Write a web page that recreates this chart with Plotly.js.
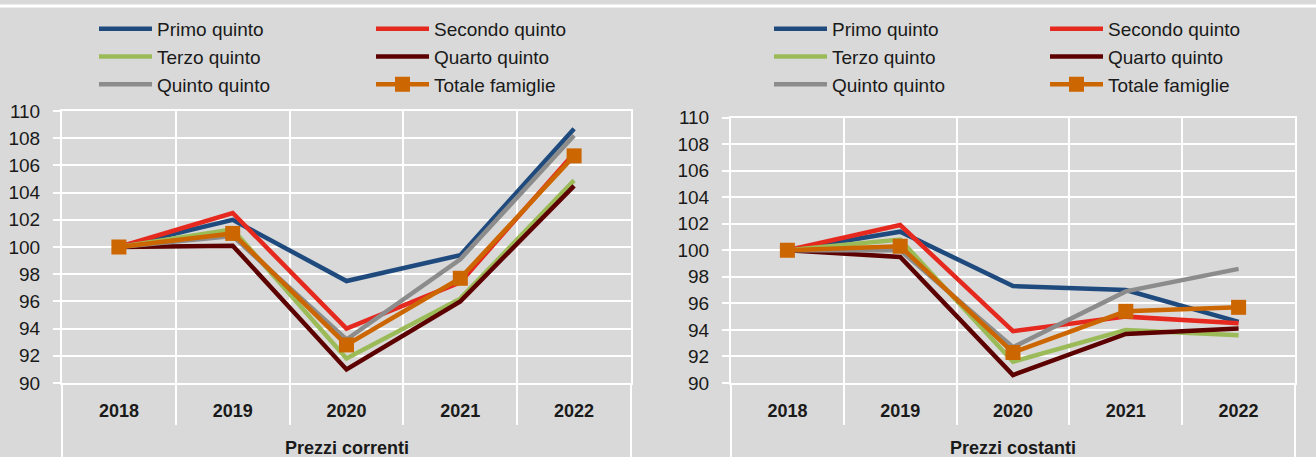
<!DOCTYPE html>
<html>
<head>
<meta charset="utf-8">
<script src="https://cdn.plot.ly/plotly-3.0.1.min.js"></script>
<style>html,body{margin:0;padding:0;background:#d9d9d9;}#chart{width:1316px;height:457px;}</style>
</head>
<body>
<div id="chart"></div>
<script>
// ---- data ----
const years = ["2018", "2019", "2020", "2021", "2022"];
const seriesNames = ["Primo quinto", "Secondo quinto", "Terzo quinto", "Quarto quinto", "Quinto quinto", "Totale famiglie"];
const panelLabels = ["Prezzi correnti", "Prezzi costanti"];

// Prezzi correnti (2018 = 100)
const primoCorrenti   = [100, 102.0, 97.5, 99.4, 108.7];
const secondoCorrenti = [100, 102.5, 94.0, 97.4, 106.9];
const terzoCorrenti   = [100, 101.3, 91.8, 96.2, 104.9];
const quartoCorrenti  = [100, 100.1, 91.0, 96.0, 104.5];
const quintoCorrenti  = [100, 100.8, 93.2, 99.1, 108.2];
const totaleCorrenti  = [100, 101.0, 92.8, 97.7, 106.7];

// Prezzi costanti (2018 = 100)
const primoCostanti   = [100, 101.4, 97.3, 97.0, 94.6];
const secondoCostanti = [100, 101.9, 93.9, 95.0, 94.5];
const terzoCostanti   = [100, 100.8, 91.6, 94.0, 93.6];
const quartoCostanti  = [100, 99.5, 90.6, 93.7, 94.1];
const quintoCostanti  = [100, 100.0, 92.7, 96.9, 98.6];
const totaleCostanti  = [100, 100.3, 92.3, 95.4, 95.7];

const yTickVals = [90, 92, 94, 96, 98, 100, 102, 104, 106, 108, 110];

// ---- styling ----
const colors = ["#1f4a7e", "#e5291f", "#9bbb59", "#5c0000", "#8c8c8c", "#cc6600"];
const W = 1316, H = 457;
const FONT = "'Liberation Sans Narrow', 'Arial Narrow', 'Liberation Sans', Arial, sans-serif";
const BG = "#d9d9d9";
const TXT = "#1a1a1a";

const panels = [
  {vals: [primoCorrenti, secondoCorrenti, terzoCorrenti, quartoCorrenti, quintoCorrenti, totaleCorrenti], xa: "x", ya: "y", legs: ["legend", "legend2"]},
  {vals: [primoCostanti, secondoCostanti, terzoCostanti, quartoCostanti, quintoCostanti, totaleCostanti], xa: "x2", ya: "y2", legs: ["legend3", "legend4"]}
];

const traces = [];
panels.forEach((p, pi) => {
  p.vals.forEach((v, i) => {
    const isTot = i === 5;
    const t = {
      type: "scatter",
      mode: isTot ? "lines+markers" : "lines",
      x: years,
      y: v,
      name: seriesNames[i],
      xaxis: p.xa, yaxis: p.ya,
      legend: p.legs[i % 2],
      line: {color: colors[i], width: 4.5},
      hoverinfo: "skip"
    };
    if (isTot) t.marker = {symbol: "square", size: 15, color: colors[i]};
    traces.push(t);
  });
});

function px(x) { return x / W; }
function py(y) { return 1 - y / H; }

const xaxisBase = {
  type: "category",
  range: [-0.5, 4.5],
  tickson: "boundaries",
  showgrid: true, gridcolor: "#ffffff", gridwidth: 2,
  showline: true, linecolor: "#ffffff", linewidth: 2, mirror: true,
  ticks: "outside", ticklen: 40, tickcolor: "#ffffff", tickwidth: 2,
  tickfont: {family: FONT, size: 18, color: TXT, weight: "bold"},
  ticklabelstandoff: 10,
  zeroline: false, fixedrange: true
};
const yaxisBase = {
  range: [90, 110],
  tickvals: yTickVals,
  showgrid: true, gridcolor: "#ffffff", gridwidth: 2,
  showline: true, linecolor: "#ffffff", linewidth: 2, mirror: true,
  ticks: "outside", ticklen: 7, tickcolor: "#ffffff", tickwidth: 2,
  ticklabelstandoff: 9,
  tickfont: {family: FONT, size: 19, color: TXT},
  zeroline: false, fixedrange: true
};

const legBase = {
  orientation: "v", xanchor: "left", yanchor: "top",
  bgcolor: "rgba(0,0,0,0)", borderwidth: 0,
  font: {family: FONT, size: 19, color: TXT},
  itemwidth: 53, tracegroupgap: 0
};

const shapes = [
  {type: "line", xref: "paper", yref: "paper", x0: 0, x1: 1, y0: py(6), y1: py(6), line: {color: "#ffffff", width: 3}}
];
const annotations = [];
["x", "x2"].forEach((xa, i) => {
  // outer edges of the category group extend to the bottom of the picture
  [0, 1].forEach(edge => {
    shapes.push({type: "line", xref: xa + " domain", yref: "paper", x0: edge, x1: edge, y0: 0, y1: py(383),
      line: {color: "#ffffff", width: 2}});
  });
  annotations.push({xref: xa + " domain", yref: "paper", x: 0.5, y: py(448), xanchor: "center", yanchor: "middle",
    text: panelLabels[i], showarrow: false, font: {family: FONT, size: 18, color: TXT, weight: "bold"}});
});

const layout = {
  width: W, height: H,
  margin: {l: 0, r: 0, t: 0, b: 0},
  paper_bgcolor: BG, plot_bgcolor: BG,
  showlegend: true,
  xaxis:  Object.assign({}, xaxisBase, {domain: [px(62), px(631)], anchor: "y"}),
  yaxis:  Object.assign({}, yaxisBase, {domain: [py(383), py(111)], anchor: "x"}),
  xaxis2: Object.assign({}, xaxisBase, {domain: [px(731), px(1295)], anchor: "y2"}),
  yaxis2: Object.assign({}, yaxisBase, {domain: [py(383), py(117.5)], anchor: "x2"}),
  legend:  Object.assign({}, legBase, {x: px(94), y: py(10)}),
  legend2: Object.assign({}, legBase, {x: px(371), y: py(10)}),
  legend3: Object.assign({}, legBase, {x: px(769), y: py(10)}),
  legend4: Object.assign({}, legBase, {x: px(1045), y: py(10)}),
  shapes: shapes,
  annotations: annotations
};

Plotly.newPlot("chart", traces, layout, {displayModeBar: false, staticPlot: true});
</script>
</body>
</html>
